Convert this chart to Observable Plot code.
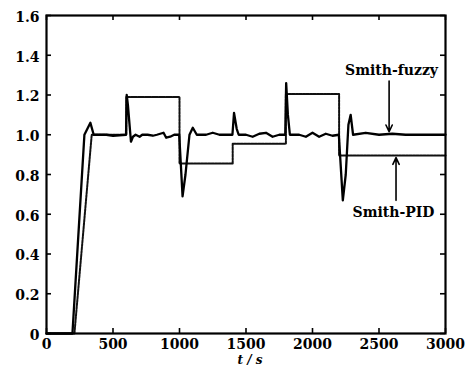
<!DOCTYPE html>
<html><head><meta charset="utf-8">
<script src="https://cdn.jsdelivr.net/npm/d3@7"></script>
<script src="https://cdn.jsdelivr.net/npm/@observablehq/plot@0.6"></script>
<style>body{margin:0;background:#fff} svg{display:block;background:#fff}</style>
</head><body><div id="chart"></div>
<script>
const fuzzyT = [0,195,240,285,330,355,450,500,598,603,612,635,650,670,700,720,760,800,830,880,900,930,960,998,1023,1045,1075,1100,1130,1200,1250,1300,1350,1398,1410,1430,1445,1500,1550,1600,1650,1700,1750,1795,1802,1815,1830,1900,1950,2000,2050,2100,2150,2198,2228,2250,2270,2287,2305,2400,2500,2600,2700,3000];
const fuzzyY = [0,0,0.5,1.0,1.06,1.0,1.0,0.995,1.0,1.2,1.15,0.965,0.99,1.0,0.99,1.0,1.0,0.995,1.0,1.01,0.985,0.99,1.0,1.0,0.69,0.8,1.0,1.035,1.0,1.0,1.01,1.0,1.0,1.0,1.11,1.03,1.0,1.0,0.99,1.005,1.01,0.99,1.0,1.0,1.26,1.1,1.0,1.0,0.99,1.01,0.99,1.005,0.995,1.0,0.67,0.8,1.05,1.1,1.0,1.01,1.0,1.005,1.0,1.0];
const pidT = [0,210,340,600,600,1000,1000,1400,1400,1800,1800,2200,2200,3000];
const pidY = [0,0,1.0,1.0,1.19,1.19,0.855,0.855,0.955,0.955,1.205,1.205,0.895,0.895];
const xTicks = [0,500,1000,1500,2000,2500,3000];
const yTicks = [0,0.2,0.4,0.6,0.8,1.0,1.2,1.4,1.6];
const labelNames = ["Smith-fuzzy","Smith-PID"];
const labelT = [2594,2609];
const labelY = [1.323,0.609];
const arrowT = [2576,2628];
const arrowFrom = [1.27,0.67];
const arrowTo = [1.015,0.885];
const xLabel = "t / s";

const fuzzy = fuzzyT.map((t,i)=>({t, y: fuzzyY[i]}));
const pid = pidT.map((t,i)=>({t, y: pidY[i]}));
const labels = labelNames.map((name,i)=>({name, t: labelT[i], y: labelY[i]}));
const arrows = arrowT.map((t,i)=>({t, y1: arrowFrom[i], y2: arrowTo[i]}));

const font = "'DejaVu Serif', serif";
const W = 470, H = 371, mL = 46, mR = 25, mT = 15, mB = 38, tick = 5;
const frameW = W - mL - mR, frameH = H - mT - mB;
const chart = Plot.plot({
  width: W, height: H,
  marginLeft: mL, marginRight: mR, marginTop: mT, marginBottom: mB,
  style: {fontFamily: font, background: "#fff", color: "#000"},
  x: {domain: [0,3000]},
  y: {domain: [0,1.6]},
  marks: [
    Plot.line(pid, {x:"t", y:"y", stroke:"#111", strokeWidth:2, strokeDasharray:"2.5,1"}),
    Plot.line(fuzzy, {x:"t", y:"y", stroke:"#000", strokeWidth:2.3, strokeLinejoin:"round"}),
    Plot.tickX(xTicks, {x: d=>d, insetTop: frameH - tick, stroke:"#000", strokeWidth: 1.6}),
    Plot.tickX(xTicks, {x: d=>d, insetBottom: frameH - tick, stroke:"#000", strokeWidth: 1.6}),
    Plot.tickY(yTicks, {y: d=>d, insetRight: frameW - tick, stroke:"#000", strokeWidth: 1.6}),
    Plot.tickY(yTicks, {y: d=>d, insetLeft: frameW - tick, stroke:"#000", strokeWidth: 1.6}),
    Plot.frame({stroke:"#000", strokeWidth: 2.2}),
    Plot.axisX(xTicks, {tickSize: 0, tickPadding: 6, fontSize: 14, fontWeight: "bold", label: null,
      tickFormat: d => String(d)}),
    Plot.axisY(yTicks, {tickSize: 0, tickPadding: 7, fontSize: 14, fontWeight: "bold", dy: 2, label: null,
      tickFormat: d => d === 0 ? "0" : d.toFixed(1)}),
    Plot.arrow(arrows, {x1:"t", x2:"t", y1:"y1", y2:"y2", stroke:"#000", strokeWidth:1.6, headLength: 7, headAngle: 50}),
    Plot.text(labels, {x:"t", y:"y", text:"name", fontSize: 14, fontWeight:"bold", fill:"#000", stroke:"#fff", strokeWidth: 3, paintOrder:"stroke"}),
    Plot.text([xLabel], {frameAnchor:"bottom", dx: 4, dy: 30, fontSize: 12, fontWeight:"bold", fontStyle:"italic", fill:"#000"})
  ]
});
document.getElementById("chart").appendChild(chart);
</script></body></html>
